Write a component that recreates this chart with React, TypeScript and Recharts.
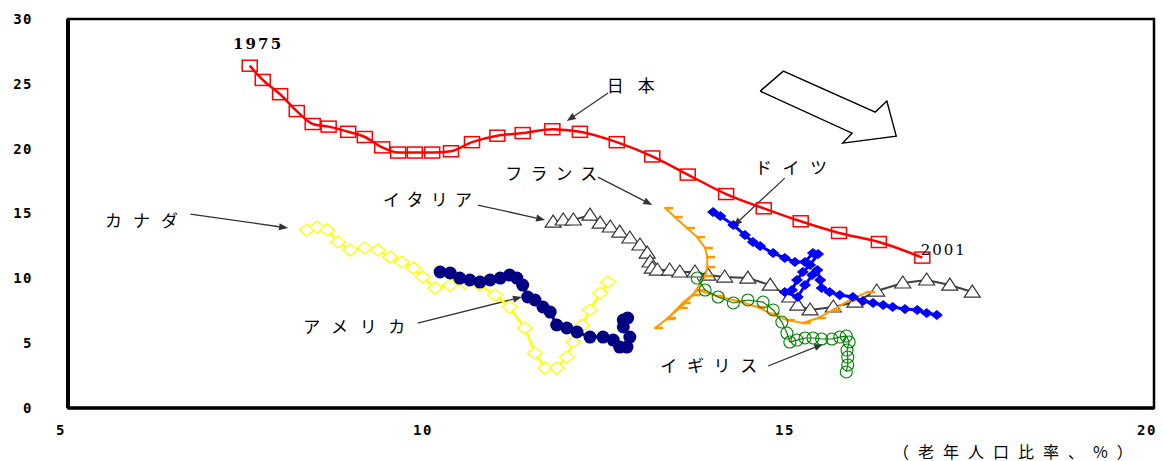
import React from "react";
import {
  ScatterChart,
  Scatter,
  XAxis,
  YAxis,
  ReferenceArea,
  ReferenceLine,
  ReferenceDot,
} from "recharts";

type Pt = [number, number];

const xTicks = [5, 10, 15, 20];
const yTicks = [0, 5, 10, 15, 20, 25, 30];

// 老年人口比率 (x) と縦軸の値 (y)、1975〜2001年
const japan: Pt[] = [
  [7.51, 26.4], [7.69, 25.3], [7.93, 24.2], [8.16, 22.9], [8.38, 21.9],
  [8.6, 21.7], [8.87, 21.3], [9.1, 20.9], [9.34, 20.1], [9.56, 19.7],
  [9.79, 19.7], [10.03, 19.7], [10.29, 19.8], [10.58, 20.5], [10.93, 21.0],
  [11.28, 21.2], [11.69, 21.5], [12.07, 21.3], [12.58, 20.5], [13.07, 19.4],
  [13.56, 18.0], [14.09, 16.5], [14.61, 15.4], [15.12, 14.4], [15.65, 13.5],
  [16.2, 12.8], [16.8, 11.6],
];

const germany: Pt[] = [
  [13.91, 15.11], [14.01, 14.8], [14.19, 14.11], [14.35, 13.34], [14.46, 12.8],
  [14.56, 12.49], [14.74, 11.95], [14.9, 11.57], [15.04, 11.26], [15.18, 11.26],
  [15.29, 11.95], [15.36, 11.87], [15.25, 11.03], [15.15, 10.49], [15.07, 9.87],
  [15.0, 9.1], [14.9, 8.94], [15.08, 8.56], [15.18, 9.48], [15.28, 10.25],
  [15.35, 10.64], [15.39, 9.87], [15.41, 9.25], [15.52, 8.94], [15.66, 8.71],
  [15.84, 8.56], [15.98, 8.25], [16.12, 8.1], [16.26, 7.94], [16.39, 7.79],
  [16.56, 7.63], [16.73, 7.56], [16.86, 7.32], [17.0, 7.17],
];

const italy: Pt[] = [
  [11.7, 14.34], [11.84, 14.5], [11.98, 14.5], [12.21, 14.88], [12.35, 14.26],
  [12.49, 13.96], [12.62, 13.57], [12.76, 13.11], [12.9, 12.57], [13.0, 11.95],
  [13.04, 11.26], [13.07, 10.79], [13.14, 10.64], [13.31, 10.64], [13.45, 10.49],
  [13.66, 10.49], [13.84, 10.25], [14.07, 10.1], [14.39, 10.02], [14.7, 9.48],
  [14.97, 8.56], [15.08, 7.94], [15.25, 7.56], [15.57, 7.79], [15.87, 8.17],
  [16.17, 9.02], [16.53, 9.64], [16.86, 9.87], [17.18, 9.48], [17.49, 8.94],
];

const france: Pt[] = [
  [13.25, 15.42], [13.38, 14.73], [13.55, 13.88], [13.69, 13.18], [13.8, 12.34],
  [13.83, 11.64], [13.83, 10.87], [13.8, 10.18], [13.63, 8.71], [13.45, 7.71],
  [13.27, 6.86], [13.11, 6.17], [13.29, 6.94], [13.49, 8.1], [13.7, 9.1],
  [13.96, 8.64], [14.24, 8.25], [14.52, 7.79], [14.72, 7.25], [14.93, 6.78],
  [15.15, 6.55], [15.36, 6.94], [15.57, 7.56], [15.8, 8.33], [16.04, 8.94],
];

const uk: Pt[] = [
  [13.69, 10.02], [13.8, 9.1], [13.98, 8.56], [14.19, 8.1], [14.39, 8.33],
  [14.6, 8.17], [14.74, 7.56], [14.86, 6.63], [14.93, 5.78], [14.97, 5.09],
  [15.07, 5.24], [15.18, 5.4], [15.29, 5.4], [15.41, 5.32], [15.55, 5.32],
  [15.66, 5.47], [15.75, 5.55], [15.79, 5.09], [15.76, 4.47], [15.77, 3.93],
  [15.77, 3.32], [15.75, 2.78],
];

const canada: Pt[] = [
  [8.3, 13.72], [8.44, 13.96], [8.58, 13.72], [8.73, 12.8], [8.9, 12.18],
  [9.1, 12.34], [9.28, 12.18], [9.45, 11.64], [9.61, 11.26], [9.77, 10.79],
  [9.9, 10.1], [10.07, 9.25], [10.28, 9.48], [10.48, 9.64], [10.69, 9.48],
  [10.9, 8.71], [11.1, 7.79], [11.31, 6.17], [11.45, 4.24], [11.59, 3.08],
  [11.75, 3.08], [11.89, 3.93], [11.98, 5.09], [12.1, 6.4], [12.21, 7.56],
  [12.35, 8.87], [12.46, 9.71],
];

const usa: Pt[] = [
  [10.14, 10.49], [10.28, 10.41], [10.41, 10.02], [10.55, 9.87], [10.69, 9.71],
  [10.83, 9.87], [10.97, 10.02], [11.1, 10.25], [11.2, 10.02], [11.28, 9.48],
  [11.35, 8.56], [11.45, 8.33], [11.56, 7.79], [11.66, 7.4], [11.75, 6.4],
  [11.89, 6.17], [12.03, 5.86], [12.21, 5.47], [12.39, 5.47], [12.53, 5.24],
  [12.62, 4.7], [12.72, 4.7], [12.76, 5.47], [12.67, 6.25], [12.67, 6.78],
  [12.73, 6.94],
];

// 右下向きの白抜き矢印
const bigArrow: Pt[] = [
  [14.56, 24.44], [14.88, 25.98], [16.15, 22.82], [16.31, 23.67],
  [16.44, 20.97], [15.7, 20.43], [15.83, 21.2], [14.56, 24.44],
];

// ラベル (左端 x, 中心 y, 幅 px)
const labelText = ["1975", "2001", "日本", "フランス", "ドイツ", "イタリア", "カナダ", "アメリカ", "イギリス"];
const labelX = [7.28, 16.78, 12.44, 11.04, 14.49, 9.35, 5.51, 8.25, 13.18];
const labelY = [28.06, 12.18, 24.98, 18.2, 18.66, 16.19, 14.5, 6.4, 3.39];
const labelW = [48, 44, 48, 92, 72, 89, 73, 102, 97];

// 引き出し線 [始点, 終点]
const pointers: [Pt, Pt][] = [
  [[12.46, 24.29], [11.89, 22.13]],
  [[12.32, 17.81], [13.07, 15.65]],
  [[14.9, 17.73], [14.19, 14.03]],
  [[10.66, 15.65], [11.59, 14.5]],
  [[6.69, 14.96], [8.04, 13.88]],
  [[9.83, 6.55], [11.27, 8.56]],
  [[14.67, 3.24], [15.43, 4.93]],
];

const toData = (a: Pt[]) => a.map(([x, y]) => ({ x, y }));

const tickStyle = {
  fill: "#000",
  fontSize: 14,
  fontWeight: 700,
  letterSpacing: 1.5,
  fontFamily: "'DejaVu Sans Mono', monospace",
};

function Pointer(props: any) {
  const { x1, y1, x2, y2 } = props;
  const a = Math.atan2(y2 - y1, x2 - x1);
  const len = 9;
  const w = 3.5;
  const bx = x2 - len * Math.cos(a);
  const by = y2 - len * Math.sin(a);
  const head = `${x2},${y2} ${bx - w * Math.sin(a)},${by + w * Math.cos(a)} ${bx + w * Math.sin(a)},${by - w * Math.cos(a)}`;
  return (
    <g>
      <line x1={x1} y1={y1} x2={bx} y2={by} stroke="#333" strokeWidth={1.3} />
      <polygon points={head} fill="#333" />
    </g>
  );
}

const squareShape = (p: any) => (
  <rect x={p.cx - 7.5} y={p.cy - 5.5} width={15} height={11} fill="none" stroke="#ff0000" strokeWidth={1.5} />
);

const triangleShape = (p: any) => (
  <polygon
    points={`${p.cx},${p.cy - 7} ${p.cx + 8},${p.cy + 5} ${p.cx - 8},${p.cy + 5}`}
    fill="#fff"
    stroke="#333"
    strokeWidth={1.2}
  />
);

const diamondShape = (color: string, fill: string, w: number, h: number, sw: number) => (p: any) => (
  <polygon
    points={`${p.cx},${p.cy - h} ${p.cx + w},${p.cy} ${p.cx},${p.cy + h} ${p.cx - w},${p.cy}`}
    fill={fill}
    stroke={color}
    strokeWidth={sw}
  />
);

const circleShape = (p: any) => (
  <circle cx={p.cx} cy={p.cy} r={6} fill="none" stroke="#008000" strokeWidth={1.1} />
);

const dotShape = (p: any) => <circle cx={p.cx} cy={p.cy} r={6.5} fill="#000080" />;

const dashShape = (p: any) => (
  <line x1={p.cx - 1} y1={p.cy} x2={p.cx + 8} y2={p.cy} stroke="#ff9900" strokeWidth={2.5} />
);

const noShape = () => <g />;

export default function App() {
  return (
    <div
      style={{
        position: "absolute",
        left: 0,
        top: 0,
        width: 1163,
        height: 461,
        background: "#fff",
      }}
    >
      <ScatterChart
        width={1163}
        height={461}
        margin={{ top: 19, right: 9, bottom: 23, left: 18 }}
      >
        <XAxis
          type="number"
          dataKey="x"
          domain={[5, 20]}
          ticks={xTicks}
          allowDataOverflow
          axisLine={false}
          tickLine={false}
          tickSize={0}
          tickMargin={17}
          height={30}
          tick={{ ...tickStyle, dx: -7 }}
        />
        <YAxis
          type="number"
          dataKey="y"
          domain={[0, 30]}
          ticks={yTicks}
          allowDataOverflow
          axisLine={false}
          tickLine={false}
          tickSize={0}
          tickMargin={35}
          width={50}
          tick={tickStyle}
        />

        <ReferenceArea x1={5} x2={20} y1={0} y2={30} fill="none" stroke="#000" strokeWidth={2.5} />
        <ReferenceLine x={5} stroke="#000" strokeWidth={4} />
        <ReferenceLine y={0} stroke="#000" strokeWidth={3.5} />

        {/* 白抜き矢印 */}
        <Scatter
          data={toData(bigArrow)}
          shape={noShape}
          line={{ stroke: "#000", strokeWidth: 1.4 }}
          isAnimationActive={false}
        />

        <Scatter data={toData(italy)} shape={triangleShape} line={{ stroke: "#404040", strokeWidth: 2 }} isAnimationActive={false} />
        <Scatter data={toData(france)} shape={dashShape} line={{ stroke: "#ff9900", strokeWidth: 2 }} isAnimationActive={false} />
        <Scatter data={toData(uk)} shape={circleShape} line={{ stroke: "#008000", strokeWidth: 1.2 }} isAnimationActive={false} />
        <Scatter
          data={toData(canada)}
          shape={diamondShape("#ffff00", "#fff", 7.5, 6, 1.3)}
          line={{ stroke: "#ffff00", strokeWidth: 2.5 }}
          isAnimationActive={false}
        />
        <Scatter data={toData(usa)} shape={dotShape} line={{ stroke: "#000080", strokeWidth: 3 }} isAnimationActive={false} />
        <Scatter
          data={toData(germany)}
          shape={diamondShape("#0000ff", "#0000ff", 5.5, 4.5, 1)}
          line={{ stroke: "#0000ff", strokeWidth: 3 }}
          isAnimationActive={false}
        />
        <Scatter
          data={toData(japan)}
          shape={squareShape}
          line={{ stroke: "#ff0000", strokeWidth: 2.5 }}
          lineJointType="monotoneX"
          isAnimationActive={false}
        />

        {pointers.map(([a, b], i) => (
          <ReferenceLine
            key={`p${i}`}
            segment={[{ x: a[0], y: a[1] }, { x: b[0], y: b[1] }]}
            shape={Pointer}
          />
        ))}

        {labelText.map((t, i) => (
          <ReferenceDot
            key={`l${i}`}
            x={labelX[i]}
            y={labelY[i]}
            r={1}
            shape={(p: any) => (
              <text
                x={p.cx}
                y={p.cy}
                dominantBaseline="central"
                textLength={labelW[i]}
                lengthAdjust="spacing"
                fill="#000"
                fontSize={i < 2 ? 15 : 17}
                fontWeight={i === 0 ? 700 : 400}
                fontFamily={i < 2 ? "'DejaVu Serif', serif" : "'Noto Sans CJK JP', sans-serif"}
              >
                {t}
              </text>
            )}
          />
        ))}
      </ScatterChart>
      <div
        style={{
          position: "absolute",
          left: 893,
          top: 442,
          width: 262,
          fontSize: 16,
          lineHeight: "18px",
          fontFamily: "'Noto Sans CJK JP', sans-serif",
          letterSpacing: 9,
          color: "#000",
          whiteSpace: "nowrap",
        }}
      >
        （老年人口比率、%）
      </div>
    </div>
  );
}
